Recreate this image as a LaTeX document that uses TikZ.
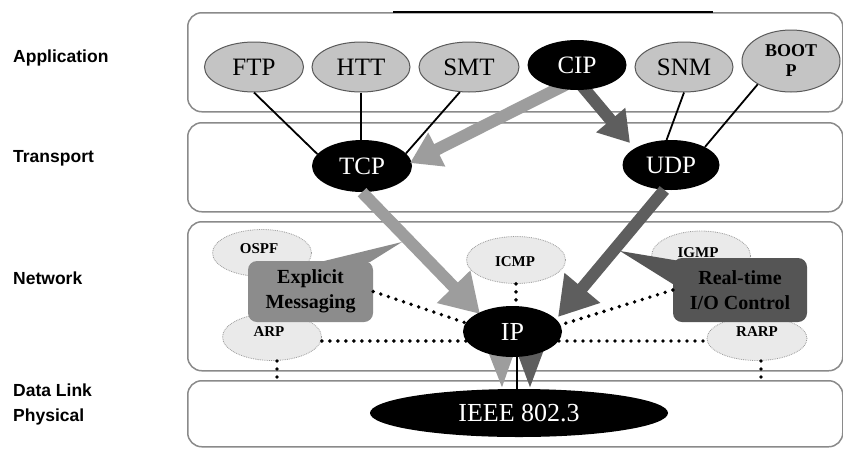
\documentclass[tikz,border=0pt]{standalone}
\usepackage{fontspec}
\setmainfont{Liberation Serif}
\setsansfont{Liberation Sans}
\usetikzlibrary{shapes.geometric,arrows.meta}

\definecolor{protofill}{HTML}{C4C4C4}
\definecolor{protoedge}{HTML}{5A5A5A}
\definecolor{lightarrow}{HTML}{9D9D9D}
\definecolor{darkarrow}{HTML}{5E5E5E}
\definecolor{layeredge}{HTML}{8A8A8A}
\definecolor{netfill}{HTML}{EAEAEA}
\definecolor{netedge}{HTML}{9A9A9A}
\definecolor{explicitfill}{HTML}{8C8C8C}
\definecolor{realtimefill}{HTML}{555555}

\tikzset{
  layerbox/.style={draw=layeredge, line width=1.5pt, rounded corners=14pt, fill=white,
    anchor=north west, inner sep=0pt},
  layerlabel/.style={anchor=west, inner sep=0pt, font=\sffamily\bfseries\fontsize{17.5}{20}\selectfont},
  appproto/.style={ellipse, draw=protoedge, line width=1pt, fill=protofill, inner sep=0pt,
    minimum width=99pt, minimum height=50pt, font=\fontsize{25}{27}\selectfont},
  keyproto/.style={ellipse, fill=black, text=white, inner sep=0pt,
    minimum width=99pt, minimum height=50pt, font=\fontsize{25}{27}\selectfont},
  netproto/.style={ellipse, draw=netedge, densely dotted, line width=0.8pt, fill=netfill, inner sep=0pt,
    minimum width=99pt, minimum height=47pt},
  netlabel/.style={font=\bfseries\fontsize{15}{17}\selectfont, inner sep=0pt},
  callbox/.style={rounded corners=9pt, inner sep=0pt, align=center,
    font=\bfseries\fontsize{20}{25}\selectfont},
  thinlink/.style={line width=1.8pt},
  dotlink/.style={line width=3.9pt, line cap=round, dash pattern=on 0pt off 8pt},
  bigarrow/.style={line width=12pt, -{Triangle[length=38pt,width=44pt]}},
  midarrow/.style={line width=12pt, -{Triangle[length=30pt,width=36pt]}},
  droparrow/.style={line width=7pt, -{Triangle[length=44pt,width=30pt]}}
}

\begin{document}
\begin{tikzpicture}[x=1pt,y=-1pt]
\useasboundingbox (0,0) rectangle (843,448);

% layer frames
\node[layerbox, minimum width=655pt, minimum height=99pt]  (applayer)   at (187,12)  {};
\node[layerbox, minimum width=655pt, minimum height=89pt]  (translayer) at (187,122) {};
\node[layerbox, minimum width=655pt, minimum height=149pt] (netlayer)   at (187,221) {};
\node[layerbox, minimum width=655pt, minimum height=66pt]  (dllayer)    at (187,380) {};
\draw[line width=1.5pt] (393,12) -- (713,12);

% layer names
\node[layerlabel] (lapp) at (13,58)  {Application};
\node[layerlabel] (ltrn) at (13,158) {Transport};
\node[layerlabel] (lnet) at (13,278) {Network};
\node[layerlabel] (ldl)  at (13,390) {Data Link};
\node[layerlabel] (lphy) at (13,417) {Physical};

% transport protocols
\node[keyproto, minimum width=100pt, minimum height=52pt] (tcp) at (362,166) {TCP};
\node[keyproto, minimum width=97pt] (udp) at (671,165) {UDP};

% network protocols
\node[netproto] (ospf) at (262,253) {};
\node[netlabel] at (259,249) {OSPF};
\node[netproto] (arp)  at (272,337) {};
\node[netlabel] at (269,332) {ARP};
\node[netproto] (icmp) at (516,260) {};
\node[netlabel] at (515,262) {ICMP};
\node[netproto, minimum height=50pt] (igmp) at (701,256) {};
\node[netlabel] at (698,253) {IGMP};
\node[netproto, minimum width=100pt, minimum height=44pt] (rarp) at (757,338.5) {};
\node[netlabel] at (757,332) {RARP};

% physical medium
\node[keyproto, minimum width=298pt, minimum height=48pt, font=\fontsize{26}{28}\selectfont]
  (ieee) at (519,413) {IEEE 802.3};

% application protocols and their transport links
\node[appproto] (ftp) at (254,67) {FTP};
\node[appproto, minimum width=98pt] (htt) at (361,67) {HTT};
\node[appproto, minimum width=100pt] (smt) at (469,67) {SMT};
\node[appproto, minimum width=98pt] (snm) at (684,67) {SNM};
\node[appproto, minimum width=98pt, minimum height=62pt, align=center,
      font=\bfseries\fontsize{18}{20}\selectfont] (bootp) at (791,61) {BOOT\\P};
\draw[thinlink] (ftp.south) -- (tcp.165);
\draw[thinlink] (htt.south) -- (htt.south |- tcp.north);
\draw[thinlink] (smt.250) -- (tcp.16);
\draw[thinlink] (snm.south) -- (udp.100);
\draw[thinlink] (bootp.215) -- (udp.28);

% IP node centre (the node itself is drawn later, on top)
\coordinate (ipc) at (512.5,331.5);
\coordinate (netrow) at (0,341);
\coordinate (iptop) at (0,308);
\coordinate (iplink) at (517,357);

% dotted associations
\draw[dotlink] (arp.east |- netrow) -- (466,341);
\draw[dotlink] (559,341) -- (rarp.west |- netrow);
\draw[dotlink] (icmp.south) -- (icmp.south |- iptop);
\draw[dotlink] (761,361) -- (761,379);
\draw[dotlink] (277,361) -- (277,379);

% message-type callouts
\fill[explicitfill] (320,262) -- (402,242) -- (370,262) -- cycle;
\node[callbox, fill=explicitfill, minimum width=125pt, minimum height=61pt] (expl) at (310.5,291.5)
  {Explicit\\Messaging};
\fill[realtimefill] (620,251) -- (680,261) -- (676,286) -- cycle;
\node[callbox, fill=realtimefill, minimum width=134pt, minimum height=64pt] (rtio) at (740,290)
  {Real-time\\I/O Control};
\draw[dotlink] (expl.east) -- (466,323);
\draw[dotlink] (rtio.west) -- (560,325);

% data paths
\draw[midarrow, lightarrow] (575,80) -- (410,163);
\draw[midarrow, darkarrow] (577,80) -- (630,143);
\draw[bigarrow, lightarrow] (tcp.south) -- (480,314);
\draw[bigarrow, darkarrow] (udp.255) -- (558,317);
\draw[droparrow, lightarrow] (501,330) -- (502,388);
\draw[droparrow, darkarrow] (530,330) -- (530,388);

% IP core and its link down to the medium
\node[keyproto, minimum width=99pt, minimum height=51pt, font=\fontsize{26}{28}\selectfont] (ip) at (ipc) {IP};
\draw[thinlink] (iplink) -- (iplink |- ieee.north);

% CIP above the arrow tails
\node[keyproto] (cip) at (577,65) {CIP};
\end{tikzpicture}
\end{document}
